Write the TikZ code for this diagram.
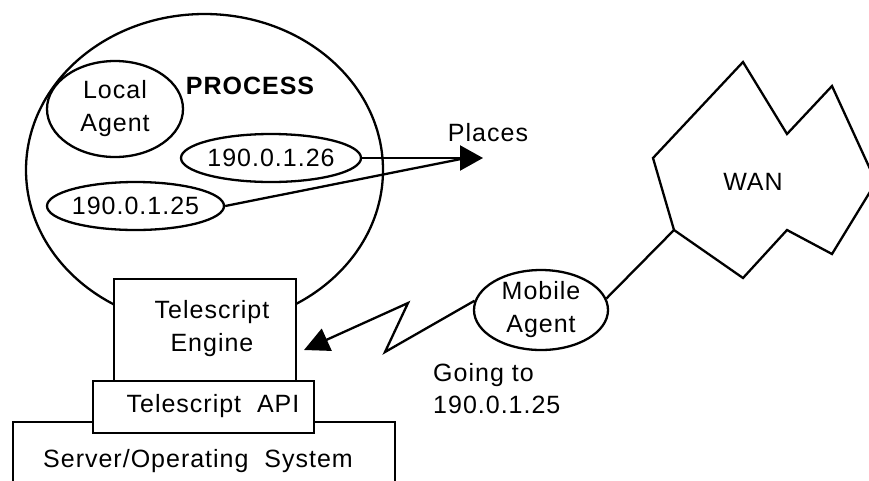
\documentclass[tikz,border=0pt]{standalone}
\usepackage{fontspec}
\setmainfont{Liberation Sans}[LetterSpace=4]
\usetikzlibrary{shapes.geometric,arrows.meta}
\begin{document}
\begin{tikzpicture}[x=1pt,y=-1pt,
  every node/.style={font=\fontsize{25}{33}\selectfont},
  ln/.style={line width=2.3pt, line join=miter},
  ell/.style={ln, draw, shape=ellipse, inner sep=0pt, align=center},
  box/.style={ln, draw, fill=white, inner sep=0pt},
  lbl/.style={inner sep=0pt, align=center},
  placetip/.style={-{Triangle[length=23pt,width=25pt]}},
  movetip/.style={-{Triangle[length=25pt,width=24pt]}}]
\useasboundingbox (0,0) rectangle (869,480);
\clip (0,0) rectangle (869,480);
% process
\node[ell, minimum width=357pt, minimum height=312pt] (process) at (204.5,170) {};
\node[lbl, font=\fontsize{25}{33}\selectfont\bfseries] (proclbl) at (250,86) {PROCESS};
\node[ell, minimum width=136pt, minimum height=96pt] (local) at (115,109) {Local\\Agent};
\node[ell, inner xsep=-20pt, minimum width=180pt, minimum height=48pt] (ip26) at (271,158) {190.0.1.26};
\node[ell, inner xsep=-20pt, minimum width=177pt, minimum height=48pt] (ip25) at (135.5,206) {190.0.1.25};
% places
\coordinate (placesTip) at (483,158);
\coordinate (placesBase) at (461,159);
\draw[ln, placetip] (ip26.east) -- (placesTip);
\draw[ln] (ip25.east) -- (placesBase);
\node[lbl] (places) at (488,133) {Places};
% engine / api / server
\node[box, minimum width=182pt, minimum height=102pt] (engine) at (205,330) {};
\node[lbl] (enginelbl) at (212,329) {Telescript\\Engine};
\node[box, minimum width=382pt, minimum height=78pt] (server) at (204,461) {};
\node[lbl] (serverlbl) at (198,461) {Server/Operating\ \ System};
\node[box, minimum width=221pt, minimum height=52pt] (api) at (203.5,407) {};
\node[lbl] (apilbl) at (213,406) {Telescript\ \ API};
% WAN
\draw[ln] (743,62) -- (787,134) -- (832,86) -- (876,182) -- (832,254) -- (787,230) -- (743,278) -- (674,230) coordinate (wanLink) -- (653,158) -- cycle;
\node[lbl] (wan) at (753,182) {WAN};
% mobile agent
\node[ell, minimum width=134pt, minimum height=80pt] (mobile) at (541,310) {Mobile\\Agent};
\draw[ln] (mobile.10) -- (wanLink);
\coordinate (zigA) at (385,352);
\coordinate (zigB) at (408,303);
\coordinate (engTip) at (304,350);
\draw[ln, movetip] (mobile.172) -- (zigA) -- (zigB) -- (engTip);
\node[anchor=base west, inner sep=0pt] (going) at (433,381) {Going to};
\node[anchor=base west, inner sep=0pt] (goingip) at (433,413) {190.0.1.25};
\end{tikzpicture}
\end{document}
